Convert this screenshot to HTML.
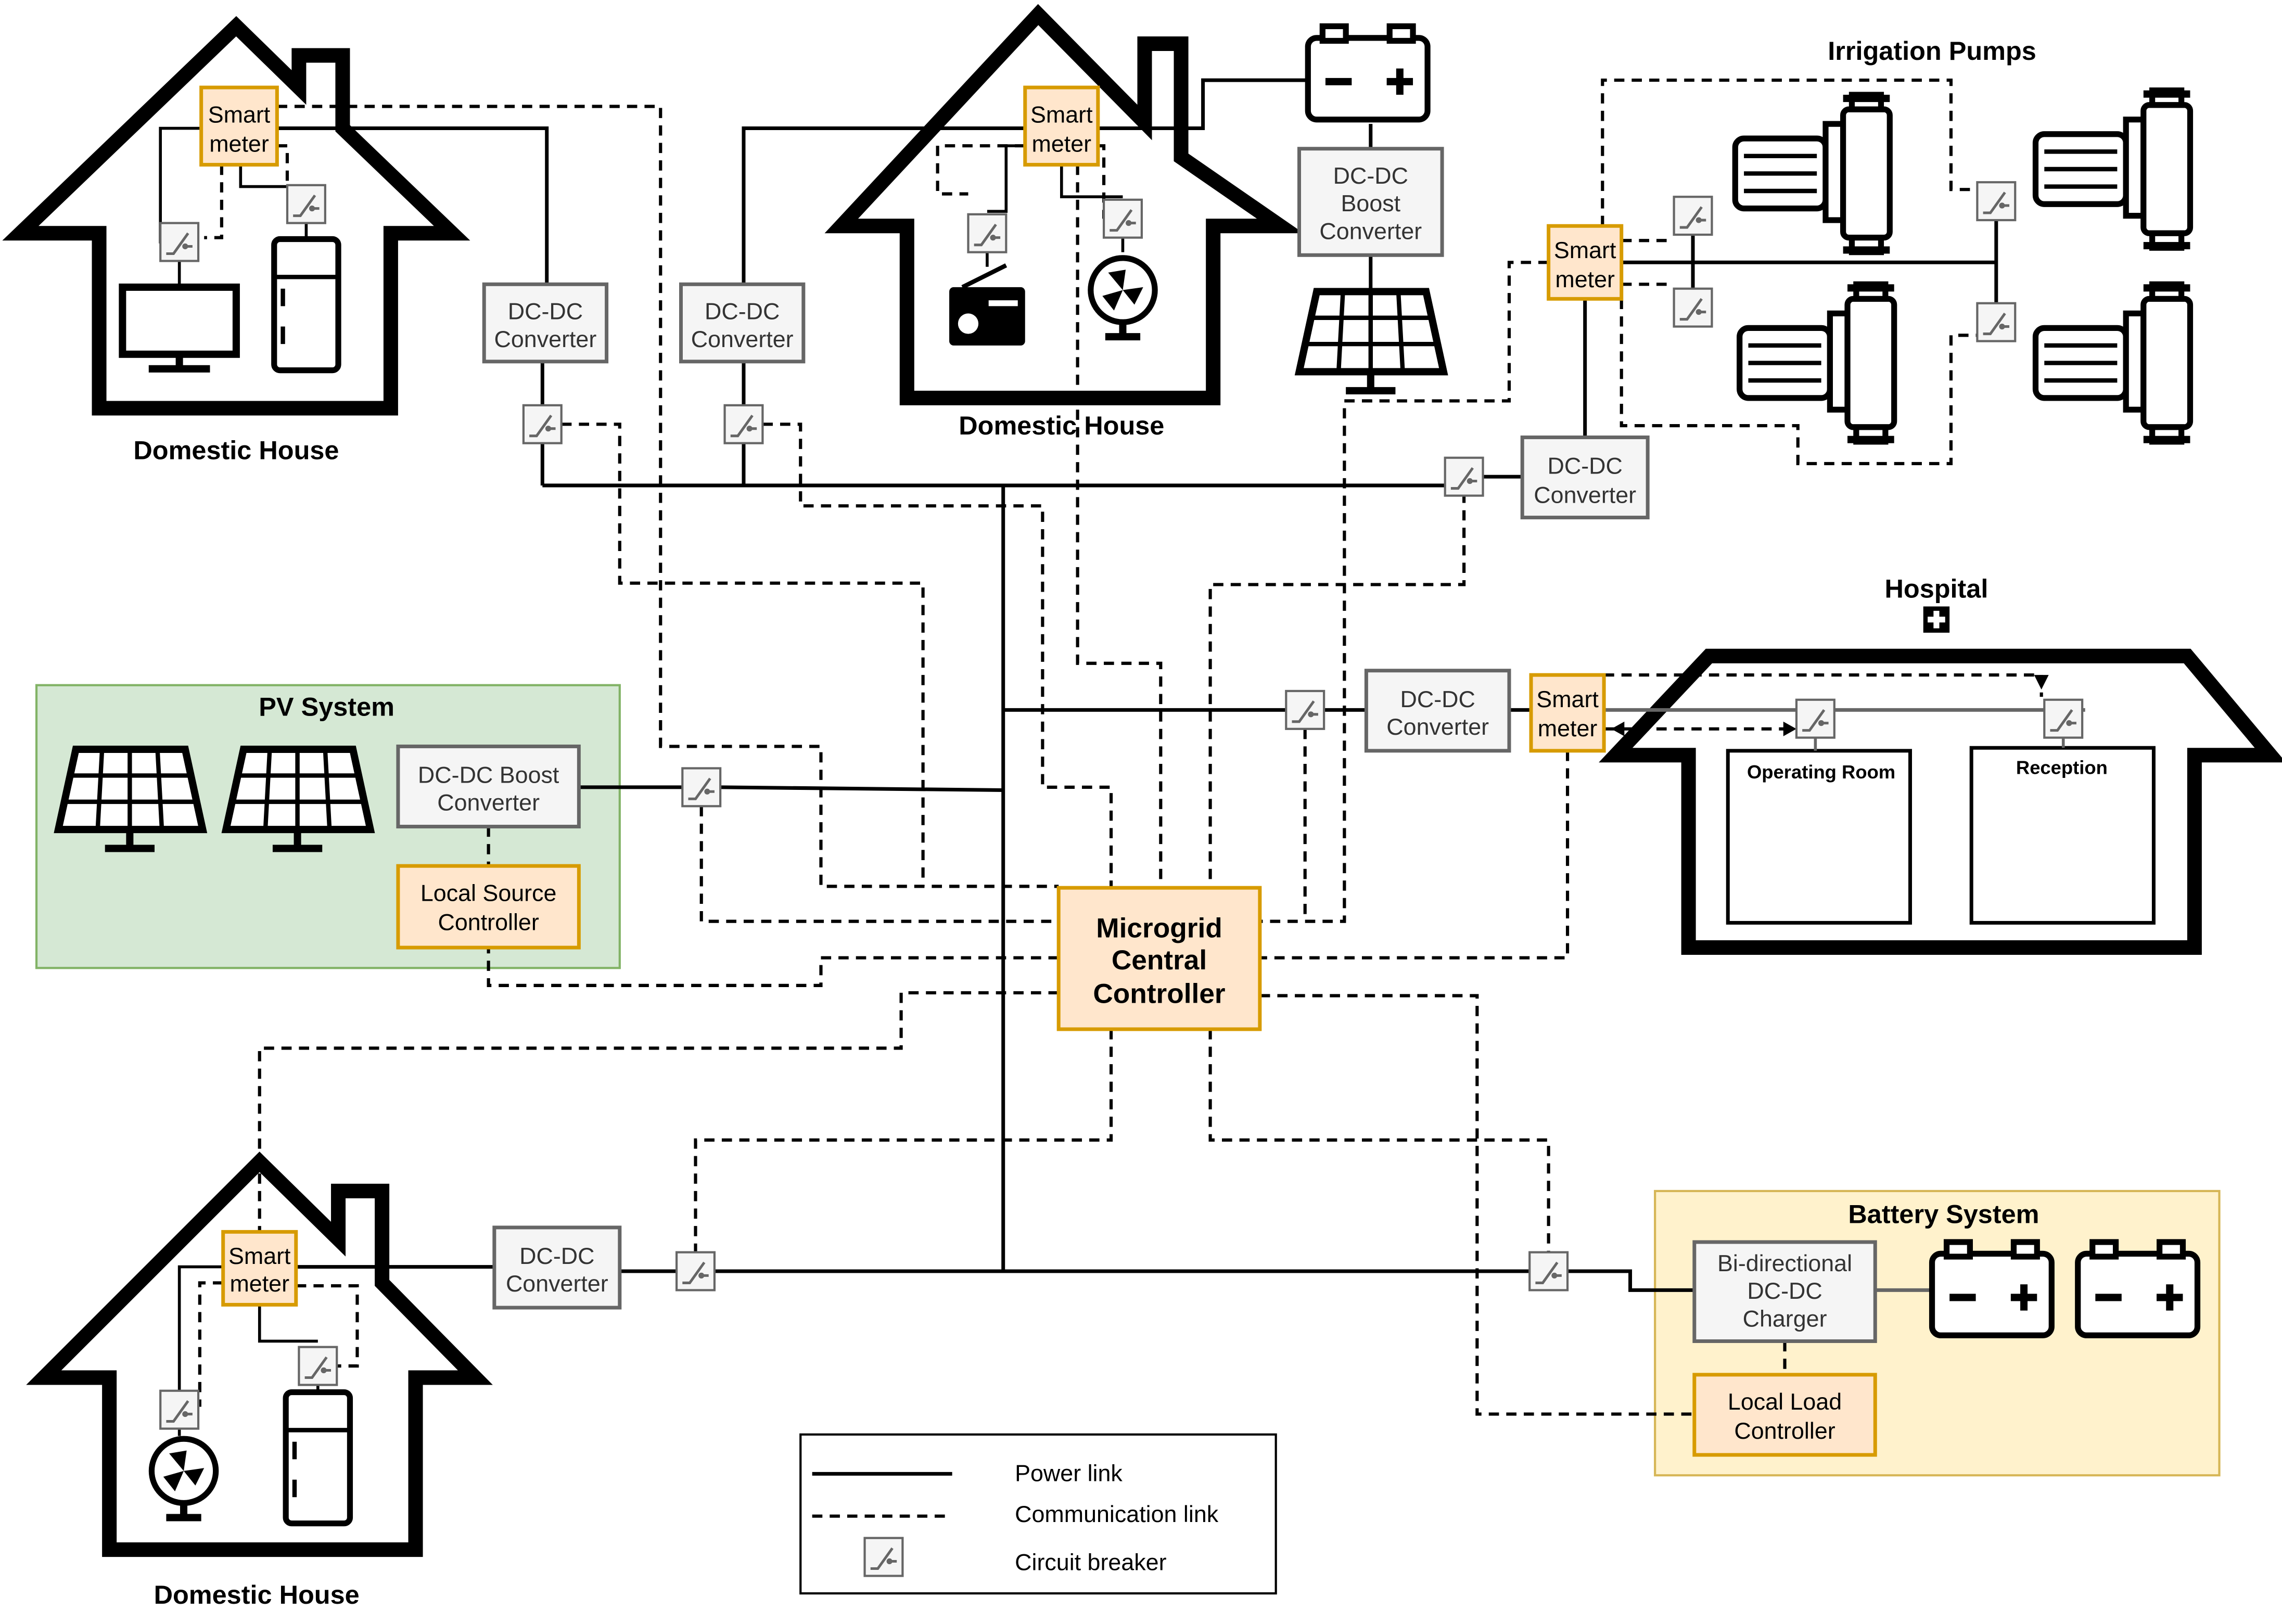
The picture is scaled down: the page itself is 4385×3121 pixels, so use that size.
<!DOCTYPE html>
<html><head><meta charset="utf-8"><style>
html,body{margin:0;padding:0;background:#fff}
svg{display:block}
text{font-family:"Liberation Sans",Arial,sans-serif}
</style></head><body>
<svg xmlns="http://www.w3.org/2000/svg" width="4385" height="3121" viewBox="0 0 1565 1114" preserveAspectRatio="none">
<defs>
<g id="cb"><rect x="-13" y="-13" width="26" height="26" fill="#f5f5f5" stroke="#666" stroke-width="1.5"/><path d="M-9,8 L-4,8 L6,-6 M4,3 L9,3" stroke="#666" stroke-width="1.8" fill="none"/><circle cx="4" cy="3" r="2" fill="#666"/></g>
<g id="panel"><path d="M10,0 L85,0 L97,55 L-2,55 Z" fill="#fff" stroke="#000" stroke-width="5"/><path d="M28,0 L25,55 M47,0 L47,55 M66,0 L69,55 M5,18 L90,18 M2,36 L93,36" stroke="#000" stroke-width="3"/><path d="M47,55 L47,67 M30,68 L64,68" stroke="#000" stroke-width="5"/></g>
<g id="bat"><rect x="0" y="8" width="82" height="56" rx="6" fill="#fff" stroke="#000" stroke-width="4"/><rect x="10" y="0" width="16" height="10" fill="#fff" stroke="#000" stroke-width="4"/><rect x="56" y="0" width="16" height="10" fill="#fff" stroke="#000" stroke-width="4"/><path d="M12,38 L30,38 M54,38 L72,38 M63,29 L63,47" stroke="#000" stroke-width="5"/></g>
<g id="pump"><rect x="0" y="30" width="62" height="48" rx="6" fill="#fff" stroke="#000" stroke-width="4"/><path d="M6,42 L56,42 M6,54 L56,54 M6,66 L56,66" stroke="#000" stroke-width="3"/><rect x="62" y="20" width="12" height="66" fill="#fff" stroke="#000" stroke-width="4"/><rect x="74" y="10" width="32" height="88" rx="4" fill="#fff" stroke="#000" stroke-width="4"/><rect x="80" y="0" width="20" height="10" fill="#fff" stroke="#000" stroke-width="4"/><rect x="80" y="98" width="20" height="10" fill="#fff" stroke="#000" stroke-width="4"/><rect x="74" y="0" width="32" height="5" fill="#000"/><rect x="74" y="104" width="32" height="5" fill="#000"/></g>
<g id="fridge"><rect x="0" y="0" width="44" height="90" rx="4" fill="#fff" stroke="#000" stroke-width="4"/><path d="M0,26 L44,26 M6,34 L6,46 M6,60 L6,72" stroke="#000" stroke-width="3"/></g>
<g id="fan"><circle cx="24" cy="24" r="22" fill="#fff" stroke="#000" stroke-width="4"/><path d="M24,24 L14,12 L26,10 Z M24,24 L38,22 L32,34 Z M24,24 L18,38 L10,28 Z" fill="#000"/><path d="M24,46 L24,54 M12,56 L36,56" stroke="#000" stroke-width="5"/></g>
</defs>

<!-- backgrounds -->
<rect x="25" y="470" width="400" height="194" fill="#d5e8d4" stroke="#82b366" stroke-width="1.5"/>
<rect x="1135" y="817" width="387" height="195" fill="#fff2cc" stroke="#d6b656" stroke-width="1.5"/>

<!-- houses -->
<g fill="none" stroke="#000" stroke-width="10" stroke-linejoin="miter">
<path d="M68,160 L14,160 L162,18 L205,60 L205,38 L235,38 L235,88 L310,160 L268,160 L268,280 L68,280 Z"/>
<path d="M622,155 L577,155 L712,10 L785,84 L785,30 L810,30 L810,108 L878,155 L832,155 L832,273 L622,273 Z"/>
<path d="M75,945 L30,945 L178,797 L232,850 L232,817 L262,817 L262,880 L326,945 L285,945 L285,1063 L75,1063 Z"/>
<path d="M1158,518 L1108,518 L1172,450 L1500,450 L1557,518 L1505,518 L1505,650 L1158,650 Z"/>
</g>
<rect x="1185" y="515" width="125" height="118" fill="#fff" stroke="#000" stroke-width="2.5"/>
<rect x="1352" y="513" width="125" height="120" fill="#fff" stroke="#000" stroke-width="2.5"/>
<text x="1249" y="534" font-size="13" font-weight="bold" text-anchor="middle">Operating Room</text>
<text x="1414" y="531" font-size="13" font-weight="bold" text-anchor="middle">Reception</text>

<!-- power lines -->
<g fill="none" stroke="#000" stroke-width="2.5">
<path d="M688,333 L688,872"/>
<path d="M372,333 L992,333 M1017,327 L1044,327"/>
<path d="M372,304 L372,333 M510,304 L510,333 M372,248 L372,278 M510,248 L510,278"/>
<path d="M190,88 L375,88 L375,195"/>
<path d="M703,88 L510,88 L510,195"/>
<path d="M753,88 L825,88 L825,55 L897,55"/>
<path d="M940,85 L940,102 M940,175 L940,200"/>
<path d="M688,487 L882,487 M908,487 L937,487 M1035,487 L1050,487"/>
<path d="M397,540 L468,540 M494,540 L688,542"/>
<path d="M425,872 L464,872 M490,872 L1049,872 M1075,872 L1118,872 L1118,885 L1162,885"/>
<path d="M203,869 L339,869"/>
<path d="M1087,205 L1087,300"/>
<path d="M1112,180 L1369,180 M1369,151 L1369,208"/>
<path d="M1161,161 L1161,198"/>
</g>
<path d="M1286,885 L1325,885" stroke="#666" stroke-width="2.5"/>
<path d="M1100,487 L1430,487" stroke="#666" stroke-width="2.5"/>
<path d="M1415,506 L1415,513 M1245,506 L1245,515" stroke="#666" stroke-width="2"/>
<!-- house internal power -->
<g fill="none" stroke="#000" stroke-width="2">
<path d="M138,88 L110,88 L110,166 L123,166 M123,179 L123,195"/>
<path d="M165,113 L165,128 L197,128 M210,153 L210,163"/>
<path d="M703,100 L690,100 L690,145 L677,145 M677,173 L677,183"/>
<path d="M728,113 L728,135 L770,135 M770,163 L770,173"/>
<path d="M153,869 L123,869 L123,954 M123,980 L123,985"/>
<path d="M178,895 L178,920 L218,920 M218,950 L218,955"/>
<path d="M1062,180 L1110,180"/>
</g>

<!-- dashed comm lines -->
<g fill="none" stroke="#000" stroke-width="2.2" stroke-dasharray="7,5">
<path d="M190,73 L453,73 L453,512 L563,512 L563,608 L726,608"/>
<path d="M385,291 L425,291 L425,400 L633,400 L633,608"/>
<path d="M523,291 L549,291 L549,347 L715,347 L715,540 L762,540 L762,609"/>
<path d="M481,553 L481,632 L726,632"/>
<path d="M739,113 L739,455 L796,455 L796,609"/>
<path d="M1017,327 L1004,327 L1004,401 L830,401 L830,609"/>
<path d="M940,262 L940,275 L922,275 L922,632 L864,632 M895,500 L895,632"/>
<path d="M1062,180 L1035,180 L1035,275 L922,275"/>
<path d="M1075,515 L1075,657 L864,657"/>
<path d="M726,657 L563,657 L563,676 L335,676 L335,650"/>
<path d="M726,681 L618,681 L618,719 L178,719 L178,845"/>
<path d="M762,706 L762,782 L477,782 L477,859"/>
<path d="M830,706 L830,782 L1062,782 L1062,859"/>
<path d="M864,683 L1013,683 L1013,970 L1162,970"/>
<path d="M335,567 L335,594 M1224,920 L1224,943"/>
<path d="M1099,155 L1099,55 L1338,55 L1338,130 L1356,130"/>
<path d="M1112,205 L1112,292 L1233,292 L1233,318 L1338,318 L1338,230 L1356,230"/>
<path d="M1112,195 L1148,195 M1112,165 L1148,165"/>
<path d="M1100,463 L1400,463 L1400,478"/>
<path d="M1100,500 L1232,500"/>
<path d="M152,113 L152,163 L140,163 M190,100 L197,100 L197,128"/>
<path d="M703,100 L643,100 L643,133 L664,133 M753,100 L757,100 L757,150"/>
<path d="M153,880 L137,880 L137,965 M203,882 L245,882 L245,937 L231,937"/>
</g>
<path d="M1395,463 L1400,473 L1405,463 Z" fill="#000"/>
<path d="M1105,500 L1114,495 L1114,505 Z M1232,500 L1223,495 L1223,505 Z" fill="#000"/>

<!-- boxes -->
<g stroke-width="2.5">
<g fill="#ffe6cc" stroke="#d79b00">
<rect x="138" y="60" width="52" height="53"/><rect x="703" y="60" width="50" height="53"/><rect x="153" y="845" width="50" height="50"/>
<rect x="1062" y="155" width="50" height="50"/><rect x="1050" y="463" width="50" height="52"/>
<rect x="726" y="609" width="138" height="97"/><rect x="273" y="594" width="124" height="56"/><rect x="1162" y="943" width="124" height="55"/>
</g>
<g fill="#f5f5f5" stroke="#666">
<rect x="332" y="195" width="84" height="53"/><rect x="467" y="195" width="84" height="53"/><rect x="1044" y="300" width="86" height="55"/>
<rect x="937" y="460" width="98" height="55"/><rect x="339" y="842" width="86" height="55"/><rect x="891" y="102" width="98" height="73"/>
<rect x="273" y="512" width="124" height="55"/><rect x="1162" y="852" width="124" height="68"/>
</g>
</g>
<g font-size="16" text-anchor="middle" fill="#000">
<text x="164" y="84">Smart</text><text x="164" y="104">meter</text>
<text x="728" y="84">Smart</text><text x="728" y="104">meter</text>
<text x="178" y="867">Smart</text><text x="178" y="886">meter</text>
<text x="1087" y="177">Smart</text><text x="1087" y="197">meter</text>
<text x="1075" y="485">Smart</text><text x="1075" y="505">meter</text>
<text x="335" y="618">Local Source</text><text x="335" y="638">Controller</text>
<text x="1224" y="967">Local Load</text><text x="1224" y="987">Controller</text>
</g>
<g font-size="16" text-anchor="middle" fill="#333">
<text x="374" y="219">DC-DC</text><text x="374" y="238">Converter</text>
<text x="509" y="219">DC-DC</text><text x="509" y="238">Converter</text>
<text x="1087" y="325">DC-DC</text><text x="1087" y="345">Converter</text>
<text x="986" y="485">DC-DC</text><text x="986" y="504">Converter</text>
<text x="382" y="867">DC-DC</text><text x="382" y="886">Converter</text>
<text x="940" y="126">DC-DC</text><text x="940" y="145">Boost</text><text x="940" y="164">Converter</text>
<text x="335" y="537">DC-DC Boost</text><text x="335" y="556">Converter</text>
<text x="1224" y="872">Bi-directional</text><text x="1224" y="891">DC-DC</text><text x="1224" y="910">Charger</text>
</g>
<g font-size="19" font-weight="bold" text-anchor="middle">
<text x="795" y="643">Microgrid</text><text x="795" y="665">Central</text><text x="795" y="688">Controller</text>
</g>
<g font-size="18" font-weight="bold" text-anchor="middle">
<text x="162" y="315">Domestic House</text><text x="728" y="298">Domestic House</text><text x="176" y="1100">Domestic House</text>
<text x="1325" y="41">Irrigation Pumps</text><text x="1328" y="410">Hospital</text>
<text x="224" y="491">PV System</text><text x="1333" y="839">Battery System</text>
</g>
<rect x="1319" y="416" width="18" height="18" fill="#000"/><path d="M1328,419 L1328,431 M1322,425 L1334,425" stroke="#fff" stroke-width="4"/>

<!-- breakers -->
<g>
<use href="#cb" x="372" y="291"/><use href="#cb" x="510" y="291"/><use href="#cb" x="1004" y="327"/>
<use href="#cb" x="895" y="487"/><use href="#cb" x="481" y="540"/><use href="#cb" x="477" y="872"/><use href="#cb" x="1062" y="872"/>
<use href="#cb" x="123" y="166"/><use href="#cb" x="210" y="140"/><use href="#cb" x="677" y="160"/><use href="#cb" x="770" y="150"/>
<use href="#cb" x="1161" y="148"/><use href="#cb" x="1161" y="211"/><use href="#cb" x="1369" y="138"/><use href="#cb" x="1369" y="221"/>
<use href="#cb" x="1245" y="493"/><use href="#cb" x="1415" y="493"/><use href="#cb" x="123" y="967"/><use href="#cb" x="218" y="937"/>
<use href="#cb" x="606" y="1068"/>
</g>

<!-- icons -->
<use href="#panel" x="42" y="514"/><use href="#panel" x="157" y="514"/><use href="#panel" x="893" y="200"/>
<use href="#bat" x="897" y="18"/><use href="#bat" x="1325" y="852"/><use href="#bat" x="1425" y="852"/>
<use href="#pump" x="1190" y="65"/><use href="#pump" x="1396" y="62"/><use href="#pump" x="1193" y="195"/><use href="#pump" x="1396" y="195"/>
<use href="#fridge" x="188" y="164"/><use href="#fridge" x="196" y="955"/>
<use href="#fan" x="746" y="175"/><use href="#fan" x="102" y="985"/>
<rect x="84" y="197" width="78" height="46" fill="#fff" stroke="#000" stroke-width="5"/><path d="M123,243 L123,252 M102,253 L144,253" stroke="#000" stroke-width="5"/>
<rect x="651" y="197" width="52" height="40" rx="3" fill="#000"/><path d="M660,197 L690,182" stroke="#000" stroke-width="3"/><circle cx="664" cy="222" r="7" fill="#fff"/><rect x="678" y="206" width="20" height="4" fill="#fff"/>

<!-- legend -->
<rect x="549" y="984" width="326" height="109" fill="#fff" stroke="#000" stroke-width="1.5"/>
<path d="M557,1011 L653,1011" stroke="#000" stroke-width="2.5"/>
<path d="M557,1040 L653,1040" stroke="#000" stroke-width="2.2" stroke-dasharray="7,5"/>
<use href="#cb" x="606" y="1068"/>
<g font-size="16"><text x="696" y="1016">Power link</text><text x="696" y="1044">Communication link</text><text x="696" y="1077">Circuit breaker</text></g>
</svg>
</body></html>
